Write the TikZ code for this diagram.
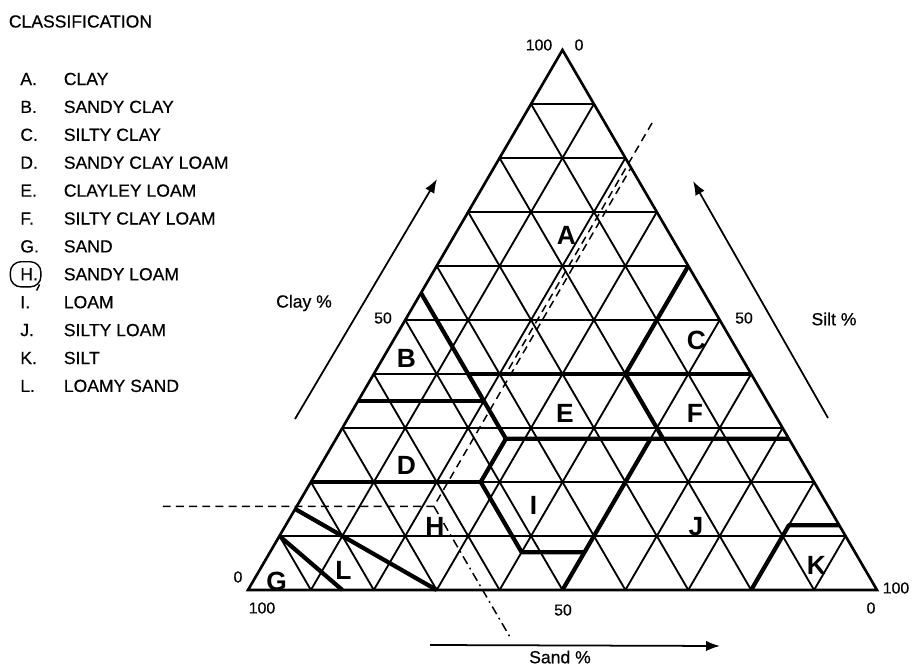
\documentclass[tikz,border=0pt]{standalone}
\usepackage{fontspec}
\setmainfont{Liberation Sans}
\newfontfamily\scanfont{Liberation Sans}[FakeBold=0.5]
\usetikzlibrary{arrows.meta, positioning, fit}

\begin{document}
\begin{tikzpicture}[
    gridline/.style={line width=1.05pt},
    rim/.style={line width=1.5pt, line join=miter},
    bound/.style={line width=2.4pt, line join=round},
    guide/.style={line width=0.85pt, dash pattern=on 4.5pt off 3pt},
    guidedot/.style={line width=0.85pt, dash pattern=on 5pt off 2.5pt on 1pt off 2.5pt},
    axarr/.style={-{Latex[length=2.8mm, width=2.1mm]}, line width=1pt},
    region/.style={font=\fontsize{15}{15}\selectfont\bfseries, inner sep=0pt},
    numlab/.style={font=\scanfont\small, inner sep=0pt},
    axlab/.style={font=\scanfont\normalsize, inner sep=0pt},
    legend/.style={font=\scanfont\normalsize, anchor=west, inner sep=0pt}
]
    \useasboundingbox (0,0) rectangle (18.28,13.34);

    % Legend
    \node[legend] (title) at (0.17,12.91) {CLASSIFICATION};
    \foreach \ltr/\name [count=\i from 0] in {A/CLAY, B/SANDY CLAY, C/SILTY CLAY, D/SANDY CLAY LOAM,
        E/CLAYLEY LOAM, F/SILTY CLAY LOAM, G/SAND, H/SANDY LOAM, I/LOAM, J/SILTY LOAM, K/SILT, L/LOAMY SAND} {
        \node[legend] (key-\ltr) at (0.4,{11.76-0.558*\i}) {\ltr.};
        \node[legend] (name-\ltr) at (1.27,{11.76-0.558*\i}) {\name};
    }
    \node[draw, line width=0.8pt, rounded corners=6pt, fit=(key-H), inner sep=3.5pt, xshift=-2pt] (ring) {};
    \draw[line width=0.8pt] (ring.south east) ++(-0.04,0.06) -- ++(-0.06,-0.12);

    % Triangle in (silt %, clay %) coordinates
    \begin{scope}[shift={(4.96,1.54)}, x={(0.1258cm,0cm)}, y={(0.0629cm,0.108cm)}]
        \coordinate (sandcorner) at (0,0);
        \coordinate (siltcorner) at (100,0);
        \coordinate (claycorner) at (0,100);

        % 10 % grid
        \foreach \v in {10,20,...,90} {
            \draw[gridline] (0,\v) -- ({100-\v},\v);
            \draw[gridline] (\v,0) -- (\v,{100-\v});
            \draw[gridline] (\v,0) -- (0,\v);
        }
        \draw[rim] (sandcorner) -- (siltcorner) -- (claycorner) -- cycle;

        % Class boundaries
        \draw[bound] (0,55) -- (27,28) -- (72,28);
        \draw[bound] (0,35) -- (20,35);
        \draw[bound] (15,40) -- (60,40);
        \draw[bound] (40,60) -- (40,40) -- (52,28);
        \draw[bound] (0,20) -- (27,20);
        \draw[bound] (27,28) -- (27,20) -- (40,7) -- (50,7);
        \draw[bound] (50,0) -- (50,28);
        \draw[bound] (80,0) -- (80,12) -- (88,12);
        \draw[bound] (0,10) -- (15,0);
        \draw[bound] (0,15) -- (30,0);

        % Reading lines for H
        \coordinate (hpt) at (21.8,15.5);
        \coordinate (hleft) at (-21.3,15.5);
        \coordinate (hrim) at (21.8,78);
        \coordinate (htop) at (21,86.5);
        \coordinate (hmid) at (21,40);
        \coordinate (hbot) at (46,-8.7);
        \draw[guide] (hleft) -- (hpt) -- (hrim);
        \draw[guide] (htop) -- (hmid);
        \draw[guidedot] (hpt) -- (hbot);
    \end{scope}

    % Region letters
    \node[region] (reg-A) at (11.33,8.64) {A};
    \node[region] (reg-B) at (8.13,6.17) {B};
    \node[region] (reg-C) at (13.93,6.54) {C};
    \node[region] (reg-D) at (8.13,4.04) {D};
    \node[region] (reg-E) at (11.30,5.07) {E};
    \node[region] (reg-F) at (13.90,5.07) {F};
    \node[region] (reg-G) at (5.53,1.71) {G};
    \node[region] (reg-H) at (8.70,2.81) {H};
    \node[region] (reg-I) at (10.67,3.24) {I};
    \node[region] (reg-J) at (13.92,2.81) {J};
    \node[region] (reg-K) at (16.33,2.04) {K};
    \node[region] (reg-L) at (6.87,1.94) {L};

    % Scale numbers
    \node[numlab] (top-clay) at (10.78,12.44) {100};
    \node[numlab] (top-silt) at (11.58,12.44) {0};
    \node[numlab] (mid-clay) at (7.66,6.98) {50};
    \node[numlab] (mid-silt) at (14.88,6.98) {50};
    \node[numlab] (low-clay) at (4.76,1.80) {0};
    \node[numlab] (low-sand) at (5.24,1.18) {100};
    \node[numlab] (mid-sand) at (11.26,1.14) {50};
    \node[numlab] (end-sand) at (17.42,1.18) {0};
    \node[numlab] (end-silt) at (17.92,1.58) {100};

    % Axis arrows
    \coordinate (clay-from) at (5.90,4.96);
    \coordinate (clay-to) at (8.74,9.76);
    \coordinate (silt-from) at (16.56,4.98);
    \coordinate (silt-to) at (13.86,9.72);
    \coordinate (sand-from) at (8.60,0.44);
    \coordinate (sand-to) at (14.40,0.42);
    \draw[axarr] (clay-from) -- (clay-to);
    \draw[axarr] (silt-from) -- (silt-to);
    \draw[axarr] (sand-from) -- (sand-to);
    \node[axlab] (clay-name) at (6.08,7.28) {Clay \%};
    \node[axlab] (silt-name) at (16.68,6.96) {Silt \%};
    \node[axlab] (sand-name) at (11.20,0.20) {Sand \%};
\end{tikzpicture}
\end{document}
